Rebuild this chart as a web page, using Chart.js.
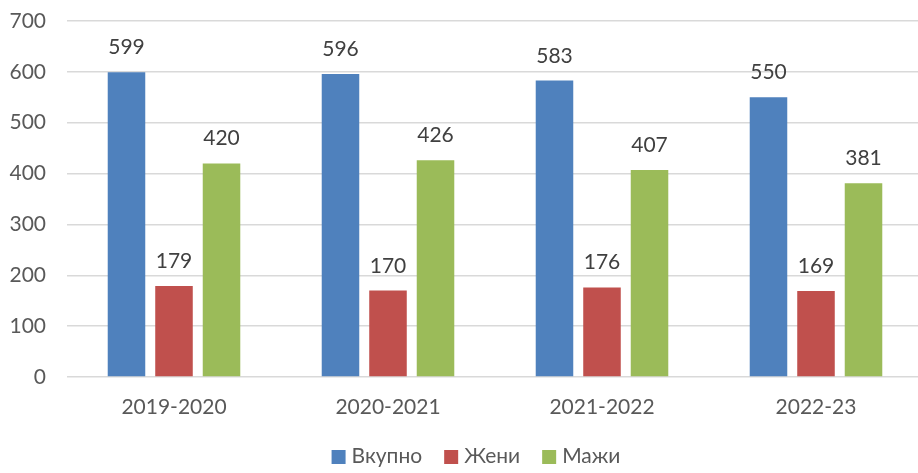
<!DOCTYPE html>
<html>
<head>
<meta charset="utf-8">
<script src="https://cdn.jsdelivr.net/npm/chart.js@4/dist/chart.umd.min.js"></script>
<style>
  html, body { margin: 0; padding: 0; background: #fff; overflow: hidden; }
  #wrap { width: 925px; height: 473px; position: relative; }
</style>
</head>
<body>
<div id="wrap"><canvas id="myChart"></canvas></div>
<script>
const years = ['2019-2020', '2020-2021', '2021-2022', '2022-23'];
const total = [599, 596, 583, 550];
const women = [179, 170, 176, 169];
const men = [420, 426, 407, 381];
const yTicks = [0, 100, 200, 300, 400, 500, 600, 700];

const FONT = 'Lato, "Open Sans", sans-serif';
const FSIZE = 21;

// value labels above each bar
const barLabels = {
  id: 'barLabels',
  afterDatasetsDraw(chart) {
    const c = chart.ctx;
    c.save();
    c.font = FSIZE + 'px ' + FONT;
    c.fillStyle = '#404040';
    c.textAlign = 'center';
    c.textBaseline = 'alphabetic';
    chart.data.datasets.forEach((ds, i) => {
      chart.getDatasetMeta(i).data.forEach((bar, j) => {
        c.fillText(ds.data[j], bar.x, bar.y - 18);
      });
    });
    c.restore();
  }
};

// legend row under the axis, Excel style
const bottomLegend = {
  id: 'bottomLegend',
  afterDraw(chart) {
    const c = chart.ctx;
    const box = 14, gap = 6, spacing = 22;
    c.save();
    c.font = FSIZE + 'px ' + FONT;
    c.textBaseline = 'alphabetic';
    c.textAlign = 'left';
    const items = chart.data.datasets.map(ds => ({
      text: ds.label, color: ds.backgroundColor, w: c.measureText(ds.label).width
    }));
    const total = items.reduce((s, it) => s + box + gap + it.w, 0) + spacing * (items.length - 1);
    let x = 476 - total / 2;
    items.forEach(it => {
      c.fillStyle = it.color;
      c.fillRect(x, 450, box, box);
      c.fillStyle = '#595959';
      c.fillText(it.text, x + box + gap, 463);
      x += box + gap + it.w + spacing;
    });
    c.restore();
  }
};

const ctx = document.getElementById('myChart');
if (ctx) {
  new Chart(ctx, {
    type: 'bar',
    data: {
      labels: years,
      datasets: [
        { label: 'Вкупно', data: total, backgroundColor: '#4F81BD' },
        { label: 'Жени', data: women, backgroundColor: '#C0504D' },
        { label: 'Мажи', data: men, backgroundColor: '#9BBB59' }
      ]
    },
    options: {
      responsive: true,
      maintainAspectRatio: false,
      animation: false,
      datasets: { bar: { categoryPercentage: 0.666, barPercentage: 0.79 } },
      layout: { padding: { top: 21, left: 0, right: 2, bottom: 0 } },
      plugins: {
        legend: { display: false },
        tooltip: { enabled: false }
      },
      scales: {
        x: {
          grid: { display: false, drawTicks: false },
          border: { display: false },
          ticks: { font: { size: FSIZE, family: FONT }, color: '#595959', padding: 18 },
          afterFit(axis) { axis.height = 96; }
        },
        y: {
          min: 0,
          max: 700,
          afterBuildTicks(axis) { axis.ticks = yTicks.map(v => ({ value: v })); },
          grid: { color: '#d9d9d9', lineWidth: 1.5, drawTicks: false },
          border: { display: false },
          ticks: { font: { size: FSIZE, family: FONT }, color: '#595959', padding: 21 },
          afterFit(axis) { axis.width = 67; axis.paddingTop = 0; axis.paddingBottom = 0; }
        }
      }
    },
    plugins: [barLabels, bottomLegend]
  });
}
</script>
</body>
</html>
